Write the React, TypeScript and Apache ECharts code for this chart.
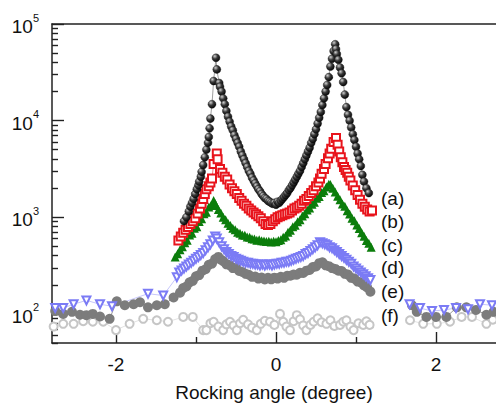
import React, { useEffect, useRef } from 'react';
import * as echarts from 'echarts';

// ---- tick values ----
const xMajorTicks = [-2, 0, 2];
const xMinorTicks = [-1, 1];
const yMajorTicks = [100, 1000, 10000, 100000];
const yMinorTicks = [50, 60, 70, 80, 90, 200, 300, 400, 500, 600, 700, 800, 900, 2000, 3000, 4000, 5000, 6000, 7000, 8000, 9000, 20000, 30000, 40000, 50000, 60000, 70000, 80000, 90000];
const curveLabels = ['(a)', '(b)', '(c)', '(d)', '(e)', '(f)'];

// ---- (a) black spheres ----
const aX = [-1.15,-1.12,-1.09,-1.07,-1.05,-1.03,-1.01,-0.99,-0.97,-0.96,-0.94,-0.93,-0.91,-0.89,-0.87,-0.85,-0.84,-0.83,-0.82,-0.80,-0.78,-0.75,-0.74,-0.71,-0.70,-0.68,-0.66,-0.64,-0.62,-0.60,-0.58,-0.56,-0.54,-0.52,-0.50,-0.48,-0.46,-0.44,-0.42,-0.40,-0.38,-0.36,-0.34,-0.32,-0.30,-0.28,-0.26,-0.24,-0.22,-0.20,-0.18,-0.16,-0.14,-0.12,-0.10,-0.08,-0.06,-0.04,-0.02,0.00,0.02,0.04,0.06,0.08,0.10,0.12,0.14,0.16,0.18,0.20,0.22,0.24,0.26,0.28,0.30,0.32,0.34,0.36,0.38,0.40,0.42,0.44,0.46,0.48,0.50,0.52,0.54,0.56,0.58,0.60,0.62,0.64,0.66,0.68,0.70,0.72,0.74,0.75,0.76,0.78,0.80,0.82,0.84,0.86,0.88,0.90,0.92,0.94,0.96,0.98,1.00,1.02,1.04,1.06,1.08,1.10,1.13,1.16];
const aY = [912,1000,1150,1290,1410,1550,1740,1950,2140,2340,2630,2950,3470,4170,5010,5890,6760,8320,10500,14800,25700,44700,33900,24500,22400,20000,17000,14800,12600,11000,9770,8710,7940,7080,6460,5890,5370,4790,4370,3980,3630,3310,3020,2820,2570,2400,2240,2090,1950,1860,1740,1660,1580,1550,1480,1450,1410,1380,1410,1350,1450,1410,1480,1550,1620,1700,1780,1910,2000,2140,2290,2450,2630,2820,3020,3310,3630,3980,4370,4790,5250,5890,6460,7240,8130,9330,10700,12300,14500,17000,20000,23400,28200,36300,43700,52500,61700,55000,49000,42700,35500,30900,25100,18600,13800,11500,10000,8510,7240,6310,5370,4570,3980,3390,2750,2340,2000,1780];

// ---- (b) red open squares ----
const bX = [-1.22,-1.19,-1.16,-1.13,-1.10,-1.07,-1.04,-1.01,-0.98,-0.95,-0.93,-0.91,-0.89,-0.87,-0.84,-0.82,-0.80,-0.78,-0.74,-0.73,-0.70,-0.67,-0.64,-0.61,-0.58,-0.55,-0.52,-0.49,-0.46,-0.43,-0.40,-0.37,-0.34,-0.31,-0.28,-0.25,-0.22,-0.19,-0.16,-0.13,-0.10,-0.07,-0.04,-0.01,0.02,0.05,0.08,0.11,0.14,0.17,0.20,0.23,0.26,0.29,0.32,0.35,0.38,0.41,0.44,0.47,0.50,0.53,0.55,0.57,0.60,0.62,0.65,0.67,0.69,0.72,0.75,0.77,0.79,0.81,0.83,0.85,0.87,0.89,0.91,0.93,0.96,0.99,1.02,1.05,1.08,1.11,1.14,1.17,1.20];
const bY = [575,631,692,741,794,851,912,977,1096,1230,1380,1549,1738,1950,2089,2291,2512,3548,4571,3981,3162,2884,2630,2455,2188,1995,1862,1738,1585,1479,1380,1318,1230,1175,1122,1072,1023,977,912,851,832,851,912,955,1000,1023,1047,1072,1096,1122,1175,1230,1259,1318,1380,1479,1549,1660,1778,1905,2089,2291,2512,2818,3162,3548,4074,4571,5129,6026,6607,5623,4786,4169,3715,3311,3090,2884,2630,2399,2138,1905,1698,1514,1380,1288,1202,1148,1175];

// ---- (c) green filled triangles ----
const cX = [-1.26,-1.23,-1.20,-1.17,-1.14,-1.11,-1.08,-1.05,-1.02,-0.99,-0.96,-0.93,-0.90,-0.87,-0.84,-0.81,-0.78,-0.76,-0.75,-0.72,-0.69,-0.66,-0.63,-0.60,-0.57,-0.54,-0.51,-0.48,-0.45,-0.42,-0.39,-0.36,-0.33,-0.30,-0.27,-0.24,-0.21,-0.18,-0.15,-0.12,-0.09,-0.06,-0.03,0.00,0.03,0.06,0.09,0.12,0.15,0.18,0.21,0.24,0.27,0.30,0.33,0.36,0.39,0.42,0.45,0.48,0.51,0.54,0.57,0.60,0.63,0.66,0.68,0.71,0.74,0.77,0.80,0.83,0.86,0.89,0.92,0.95,0.98,1.01,1.04,1.07,1.10,1.13,1.16,1.19];
const cY = [389,420,462,495,545,580,655,685,770,800,905,965,1085,1130,1275,1330,1490,1380,1320,1200,1110,1000,945,865,820,770,745,700,685,655,650,625,620,600,595,580,585,570,568,560,565,555,565,558,575,585,620,640,700,735,800,825,900,945,1030,1090,1190,1250,1360,1430,1570,1640,1800,1880,2060,2200,2180,2000,1830,1650,1520,1370,1300,1170,1080,975,920,830,765,690,635,575,540,490];

// ---- (d) blue open down-triangles (null = gap) ----
const dX = [-2.76,-2.66,-2.53,-2.37,-2.20,-2.05,-1.60,-1.41,-1.24,-1.21,-1.18,-1.15,-1.12,-1.09,-1.06,-1.03,-1.00,-0.97,-0.94,-0.91,-0.88,-0.85,-0.82,-0.79,-0.76,-0.74,-0.71,-0.68,-0.65,-0.62,-0.59,-0.56,-0.53,-0.50,-0.47,-0.44,-0.41,-0.38,-0.35,-0.32,-0.29,-0.26,-0.23,-0.20,-0.17,-0.14,-0.11,-0.08,-0.05,-0.02,0.01,0.04,0.07,0.10,0.13,0.16,0.19,0.22,0.25,0.28,0.31,0.34,0.37,0.40,0.43,0.46,0.49,0.52,0.55,0.58,0.61,0.64,0.67,0.70,0.73,0.76,0.79,0.82,0.85,0.88,0.91,0.94,0.97,1.00,1.03,1.06,1.09,1.12,1.15,1.18,1.45,1.67,1.80,1.95,2.10,2.25,2.40,2.55,2.70];
const dY = [115,115,126,138,126,120,162,155,240,269,282,295,309,324,339,355,372,389,407,427,457,490,525,575,631,603,550,501,468,437,417,398,389,372,363,355,347,339,339,331,331,324,324,316,324,316,324,324,316,324,331,331,339,339,347,347,355,363,372,380,389,398,417,427,447,468,490,513,550,537,525,513,490,479,457,437,417,398,380,363,347,331,309,295,282,269,257,245,234,224,null,126,115,107,110,115,112,126,123];

// ---- (e) gray filled circles ----
const eX = [-2.76,-2.66,-2.55,-2.45,-2.37,-2.29,-2.20,-2.08,-1.99,-1.89,-1.78,-1.70,-1.60,-1.49,-1.39,-1.28,-1.20,-1.16,-1.12,-1.08,-1.04,-1.00,-0.96,-0.92,-0.88,-0.84,-0.80,-0.76,-0.72,-0.69,-0.66,-0.62,-0.58,-0.54,-0.50,-0.46,-0.42,-0.38,-0.34,-0.30,-0.26,-0.22,-0.18,-0.14,-0.10,-0.06,-0.02,0.02,0.06,0.10,0.14,0.18,0.22,0.26,0.30,0.34,0.38,0.42,0.46,0.50,0.54,0.58,0.62,0.66,0.70,0.74,0.78,0.82,0.86,0.90,0.94,0.98,1.02,1.06,1.10,1.14,1.18,1.45,1.70,1.76,1.88,2.00,2.13,2.26,2.38,2.50,2.63,2.72];
const eY = [107,100,105,98,97,100,94,89,135,123,126,132,117,123,126,148,166,185,192,212,220,245,252,280,290,322,332,370,389,365,352,326,320,298,300,278,272,260,254,242,244,232,238,227,236,228,237,232,242,236,248,248,255,254,266,265,280,285,305,310,335,342,318,312,298,292,280,278,260,255,236,232,216,212,197,188,170,null,123,105,93,93,93,117,117,110,98,105];

// ---- (f) light gray open circles ----
const fX = [-2.78,-2.66,-2.53,-2.41,-2.29,-2.16,-2.00,-1.83,-1.66,-1.49,-1.35,-1.16,-1.04,-0.91,-0.87,-0.82,-0.78,-0.72,-0.66,-0.62,-0.575,-0.53,-0.49,-0.45,-0.41,-0.35,-0.30,-0.24,-0.19,-0.14,-0.075,-0.02,0.05,0.09,0.13,0.175,0.22,0.26,0.30,0.34,0.38,0.43,0.47,0.52,0.57,0.63,0.68,0.73,0.80,0.84,0.88,0.93,0.97,1.03,1.09,1.13,1.17,1.45,1.675,1.84,2.01,2.175,2.32,2.45,2.63,2.71];
const fY = [74,79,79,84,83,83,68,79,89,86,83,93,93,68,68,80,83,74,68,78,83,76,68,80,87,78,72,68,79,85,83,77,100,83,74,68,84,97,88,76,68,77,83,90,82,79,86,75,77,83,86,74,68,80,77,84,77,null,86,79,79,83,93,93,79,87];

const FONT = '"Liberation Sans", Arial, Helvetica, sans-serif';
const AXIS_COLOR = '#222';
const X_MIN = -2.8;
const X_MAX = 2.75;
const Y_MIN = 50;
const Y_MAX = 100000;

const pairs = (xs: number[], ys: (number | null)[]) =>
  xs.map((x, i) => [x, ys[i] === null ? '-' : ys[i]]);

export default function App() {
  const ref = useRef<HTMLDivElement>(null);
  useEffect(() => {
    const chart = echarts.init(ref.current!, null, { renderer: 'svg' });
    const sphere = new echarts.graphic.RadialGradient(0.35, 0.3, 0.75, [
      { offset: 0, color: '#cfcfcf' },
      { offset: 0.45, color: '#3a3a3a' },
      { offset: 1, color: '#000' },
    ]);
    const labelYs = [200, 223, 247, 269, 293, 317];
    const xBase = { type: 'value', min: X_MIN, max: X_MAX, splitLine: { show: false } };
    const yBase = { type: 'log', min: Y_MIN, max: Y_MAX, position: 'left', splitLine: { show: false } };
    const tickLine = { color: AXIS_COLOR, width: 1.4 };
    const option: any = {
      animation: false,
      backgroundColor: '#fff',
      grid: { left: 52, right: 0, top: 24, bottom: 56 },
      xAxis: [
        {
          ...xBase, position: 'bottom',
          axisLine: { show: true, onZero: false, lineStyle: { color: AXIS_COLOR, width: 1.5 } },
          axisTick: { show: true, inside: true, length: 11, customValues: xMajorTicks, lineStyle: tickLine },
          axisLabel: { show: true, customValues: xMajorTicks, fontSize: 19, fontFamily: FONT, color: '#111', margin: 12 },
          name: 'Rocking angle (degree)', nameLocation: 'middle', nameGap: 40,
          nameTextStyle: { fontSize: 19, fontFamily: FONT, color: '#111' },
        },
        {
          ...xBase, position: 'bottom',
          axisLine: { show: false, onZero: false },
          axisTick: { show: true, inside: true, length: 6, customValues: xMinorTicks, lineStyle: tickLine },
          axisLabel: { show: false },
        },
        {
          ...xBase, position: 'top',
          axisLine: { show: true, onZero: false, lineStyle: { color: AXIS_COLOR, width: 1.5 } },
          axisTick: { show: false }, axisLabel: { show: false },
        },
      ],
      yAxis: [
        {
          ...yBase,
          axisLine: { show: true, onZero: false, lineStyle: { color: AXIS_COLOR, width: 1.5 } },
          axisTick: { show: true, inside: true, length: 12, customValues: yMajorTicks, lineStyle: tickLine },
          axisLabel: {
            show: true, customValues: yMajorTicks, margin: 13,
            formatter: (v: number) => '{b|10}{s|' + Math.round(Math.log10(v)) + '}',
            rich: {
              b: { fontSize: 19, fontFamily: FONT, color: '#111', lineHeight: 24, verticalAlign: 'bottom' },
              s: { fontSize: 11, fontFamily: FONT, color: '#111', lineHeight: 11, verticalAlign: 'top' },
            },
          },
        },
        {
          ...yBase,
          axisLine: { show: false, onZero: false },
          axisTick: { show: true, inside: true, length: 6, customValues: yMinorTicks, lineStyle: tickLine },
          axisLabel: { show: false },
        },
      ],
      graphic: curveLabels.map((t, i) => ({
        type: 'text', left: 381, top: labelYs[i] - 11,
        style: { text: t, fontSize: 19, fontFamily: FONT, fill: '#111' },
      })),
      series: [
        {
          name: 'f', type: 'line', data: pairs(fX, fY), symbol: 'emptyCircle', symbolSize: 8,
          itemStyle: { color: '#c6c6c6', borderWidth: 1 }, lineStyle: { color: '#d6d6d6', width: 0.7 }, silent: true,
        },
        {
          name: 'e', type: 'line', data: pairs(eX, eY), symbol: 'circle', symbolSize: 10,
          itemStyle: { color: '#7c7c7c' }, lineStyle: { color: '#7c7c7c', width: 0.8 }, silent: true,
        },
        {
          name: 'd', type: 'line', data: pairs(dX, dY), symbol: 'emptyTriangle', symbolRotate: 180, symbolSize: 8,
          itemStyle: { color: '#7b7bf5', borderWidth: 0.8 }, lineStyle: { color: '#8c8cf5', width: 0.5 }, silent: true,
        },
        {
          name: 'c', type: 'line', data: pairs(cX, cY), symbol: 'triangle', symbolSize: 9,
          itemStyle: { color: '#0b7d0b' }, lineStyle: { color: '#0b7d0b', width: 1 }, silent: true,
        },
        {
          name: 'b', type: 'line', data: pairs(bX, bY), symbol: 'emptyRect', symbolSize: 8,
          itemStyle: { color: '#e8141c', borderWidth: 1.3 }, lineStyle: { color: '#e8141c', width: 0.6 }, silent: true,
        },
        {
          name: 'a', type: 'line', data: pairs(aX, aY), symbol: 'circle', symbolSize: 8,
          itemStyle: { color: sphere, borderColor: '#111', borderWidth: 0.4 }, lineStyle: { color: '#777', width: 0.7 }, silent: true,
        },
      ],
    };
    chart.setOption(option);
    return () => chart.dispose();
  }, []);
  return <div ref={ref} style={{ position: 'absolute', left: 0, top: 0, width: 496, height: 407 }} />;
}
